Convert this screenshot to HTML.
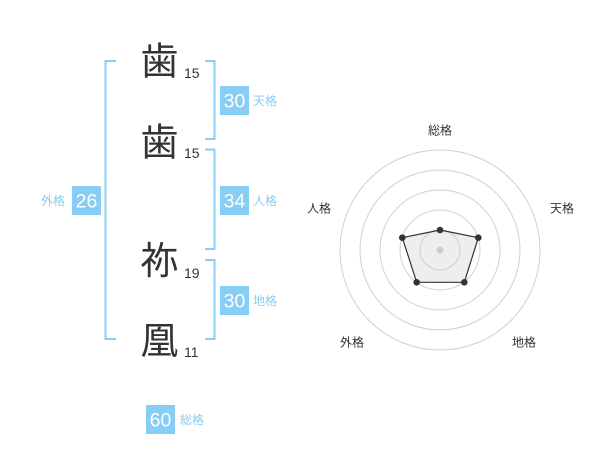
<!DOCTYPE html>
<html><head><meta charset="utf-8"><style>
html,body{margin:0;padding:0;background:#fff;width:600px;height:470px;overflow:hidden}
svg{display:block}
text{font-family:"Liberation Sans","Noto Sans CJK JP",sans-serif}
.k{font-family:"Noto Sans CJK JP","Liberation Sans",sans-serif;font-size:38px;fill:#333}
.n{font-size:14px;fill:#333}
.b{font-size:19.5px;fill:#fff}
.l{font-family:"Liberation Sans","Noto Sans CJK JP",sans-serif;font-size:12px;fill:#8ccaf0}
.r{font-family:"Liberation Sans","Noto Sans CJK JP",sans-serif;font-size:12px;fill:#333}
</style></head><body>
<svg width="600" height="470" viewBox="0 0 600 470" xmlns="http://www.w3.org/2000/svg">
<g fill="none" stroke="#88cdf6" stroke-width="2">
<polyline points="116,61 105.5,61 105.5,339 116,339"/>
<polyline points="205,61 214.5,61 214.5,139 205,139"/>
<polyline points="205,149.5 214.5,149.5 214.5,249 205,249"/>
<polyline points="205,260 214.5,260 214.5,339 205,339"/>
</g>
<text class="k" x="159.5" y="74.5" text-anchor="middle">歯</text>
<text class="n" x="184" y="78">15</text>
<text class="k" x="159.5" y="155.5" text-anchor="middle">歯</text>
<text class="n" x="184" y="158">15</text>
<text class="k" x="159.5" y="274" text-anchor="middle">祢</text>
<text class="n" x="184" y="278">19</text>
<text class="k" x="159.5" y="354" text-anchor="middle">凰</text>
<text class="n" x="184" y="357">11</text>
<g fill="#88cdf6">
<rect x="220" y="86" width="29" height="29"/>
<rect x="220" y="186" width="29" height="29"/>
<rect x="220" y="286" width="29" height="29"/>
<rect x="72" y="186" width="29" height="29"/>
<rect x="146" y="405" width="29" height="29"/>
</g>
<text class="b" x="234.5" y="107.5" text-anchor="middle">30</text>
<text class="b" x="234.5" y="207.5" text-anchor="middle">34</text>
<text class="b" x="234.5" y="307.5" text-anchor="middle">30</text>
<text class="b" x="86.5" y="207.5" text-anchor="middle">26</text>
<text class="b" x="160.5" y="426.5" text-anchor="middle">60</text>
<text class="l" x="253" y="105">天格</text>
<text class="l" x="253" y="205">人格</text>
<text class="l" x="253" y="305">地格</text>
<text class="l" x="41" y="205">外格</text>
<text class="l" x="180" y="424">総格</text>
<g fill="none" stroke="#d0d0d0" stroke-width="1">
<circle cx="440" cy="250" r="100"/>
<circle cx="440" cy="250" r="80"/>
<circle cx="440" cy="250" r="60"/>
<circle cx="440" cy="250" r="40"/>
<circle cx="440" cy="250" r="20"/>
</g>
<polygon points="440,230 478.3,237.7 464.3,282.3 416.7,282.3 402.3,237.7" fill="rgba(200,200,200,0.3)" stroke="#333" stroke-width="1.2"/>
<circle cx="440" cy="250" r="3.5" fill="#ccc"/>
<g fill="#333">
<circle cx="440" cy="230" r="3.3"/>
<circle cx="478.3" cy="237.7" r="3.3"/>
<circle cx="464.3" cy="282.3" r="3.3"/>
<circle cx="416.7" cy="282.3" r="3.3"/>
<circle cx="402.3" cy="237.7" r="3.3"/>
</g>
<text class="r" x="440" y="134.5" text-anchor="middle">総格</text>
<text class="r" x="562" y="212.5" text-anchor="middle">天格</text>
<text class="r" x="319" y="212.5" text-anchor="middle">人格</text>
<text class="r" x="352" y="346.5" text-anchor="middle">外格</text>
<text class="r" x="524" y="346.5" text-anchor="middle">地格</text>
</svg>
</body></html>
